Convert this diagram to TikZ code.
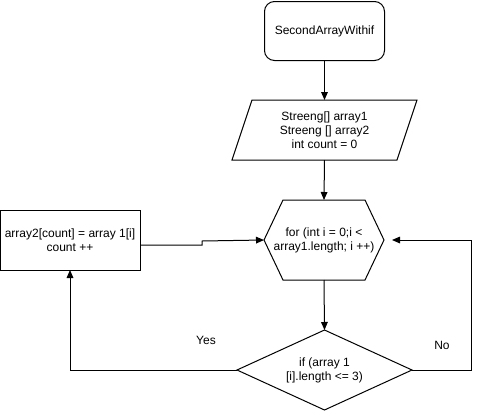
\documentclass[tikz,border=0pt]{standalone}
\usepackage{fontspec}
\setmainfont{Liberation Sans}
\usetikzlibrary{shapes.geometric,arrows.meta,calc}
\begin{document}
\begin{tikzpicture}[x=0.75pt,y=-0.75pt,
  every node/.style={font=\fontsize{9}{10.5}\selectfont, align=center},
  box/.style={inner sep=0pt, outer sep=0pt},
  line/.style={draw=black, line width=0.75pt},
  arr/.style={line, -{Triangle[length=6pt,width=5pt]}}]
\useasboundingbox (0,0) rectangle (479,411);
% start
\node[box, draw, line width=0.75pt, rounded corners=7.5pt, minimum width=90pt, minimum height=44.25pt] (start) at (324.5,31) {SecondArrayWithif};
% parallelogram
\node[box, minimum width=138.75pt, minimum height=45pt] (para) at (324.5,130) {Streeng[] array1\\Streeng [] array2\\int count = 0};
\draw[line] ($(para.north west)+(20,0)$) -- (para.north east) -- ($(para.south east)+(-20,0)$) -- (para.south west) -- cycle;
% hexagon
\node[box, minimum width=90pt, minimum height=60pt] (loop) at (324,240) {for (int i = 0;i <\\array1.length; i ++)};
\draw[line] ($(loop.north west)+(19,0)$) -- ($(loop.north east)+(-19,0)$) -- (loop.east) -- ($(loop.south east)+(-19,0)$) -- ($(loop.south west)+(19,0)$) -- (loop.west) -- cycle;
% action box
\node[box, draw, line width=0.75pt, minimum width=105pt, minimum height=45pt] (act) at (70,240) {array2[count] = array 1[i]\\count ++};
% diamond
\node[box, draw, line width=0.75pt, diamond, aspect=2.19, minimum width=131.25pt, minimum height=60pt] (cond) at (324.5,370) {if (array 1\\{}[i].length <= 3)};
% connectors
\draw[arr] (start.south) -- (para.north);
\draw[arr] (para.south) -- (loop.north);
\draw[arr] (loop.south) -- (cond.north);
\draw[arr] ($(act.east)+(0,5)$) -- (202,245) -- (202,241) -- (loop.west);
\draw[arr] (cond.west) -| (act.south);
\draw[arr, shorten >=6pt] (cond.east) -- (471,370) |- (loop.east);
% labels
\node (yes) at (206,340) {Yes};
\node (no) at (442,345) {No};
\end{tikzpicture}
\end{document}
